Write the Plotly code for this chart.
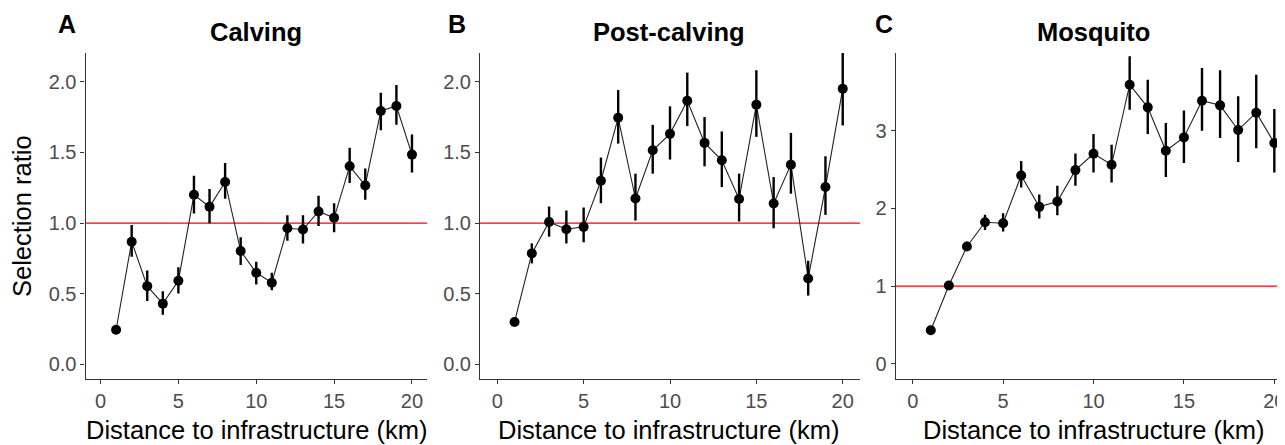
import plotly.graph_objects as go

# ---------------- data ----------------
distance_km = [1, 2, 3, 4, 5, 6, 7, 8, 9, 10, 11, 12, 13, 14, 15, 16, 17, 18, 19, 20]

calving_ratio = [0.244, 0.868, 0.553, 0.429, 0.591, 1.200, 1.115, 1.291, 0.802, 0.648,
                 0.577, 0.963, 0.954, 1.082, 1.037, 1.402, 1.267, 1.794, 1.829, 1.485]
calving_upper = [0.275, 0.987, 0.664, 0.517, 0.686, 1.335, 1.241, 1.426, 0.899, 0.726,
                 0.648, 1.056, 1.056, 1.193, 1.141, 1.533, 1.386, 1.924, 1.979, 1.628]
calving_lower = [0.215, 0.762, 0.448, 0.351, 0.500, 1.067, 0.999, 1.172, 0.702, 0.565,
                 0.524, 0.875, 0.856, 0.980, 0.935, 1.283, 1.165, 1.658, 1.696, 1.359]

post_ratio = [0.299, 0.785, 1.008, 0.956, 0.973, 1.300, 1.746, 1.174, 1.516, 1.632,
              1.867, 1.568, 1.445, 1.170, 1.839, 1.139, 1.414, 0.607, 1.255, 1.952]
post_upper = [0.320, 0.856, 1.117, 1.089, 1.110, 1.464, 1.943, 1.350, 1.696, 1.827,
              2.066, 1.751, 1.649, 1.350, 2.083, 1.326, 1.639, 0.733, 1.473, 2.220]
post_lower = [0.280, 0.714, 0.904, 0.856, 0.864, 1.141, 1.563, 1.018, 1.350, 1.450,
              1.687, 1.402, 1.255, 1.011, 1.611, 0.963, 1.208, 0.486, 1.058, 1.692]

mosq_ratio = [0.430, 1.006, 1.509, 1.822, 1.809, 2.424, 2.020, 2.089, 2.493, 2.703,
              2.562, 3.593, 3.301, 2.742, 2.914, 3.387, 3.327, 3.009, 3.232, 2.841]
mosq_upper = [0.470, 1.050, 1.570, 1.917, 1.938, 2.609, 2.179, 2.291, 2.708, 2.957,
              2.819, 3.958, 3.658, 3.099, 3.262, 3.808, 3.778, 3.443, 3.722, 3.279]
mosq_lower = [0.390, 0.960, 1.450, 1.723, 1.702, 2.269, 1.870, 1.913, 2.291, 2.463,
              2.334, 3.271, 2.957, 2.403, 2.583, 3.000, 2.905, 2.596, 2.776, 2.463]

panel_letters = ["A", "B", "C"]
panel_titles = ["Calving", "Post-calving", "Mosquito"]
x_title = "Distance to infrastructure (km)"
y_title = "Selection ratio"
reference_value = 1

x_ticks = [0, 5, 10, 15, 20]
y_ticks_ab = [0.0, 0.5, 1.0, 1.5, 2.0]
y_ticks_c = [0, 1, 2, 3]

# ---------------- layout geometry (window pixels) ----------------
OFF = 8                      # default page body margin
W, H = 1285 - OFF, 445 - OFF
plot_top, plot_bottom = 53, 379
x_pix = [(85.5, 427.0), (480.0, 860.0), (895.7, 1285.0)]
x_ranges = [[-0.965, 20.965], [-1.0, 21.0], [-0.94, 20.59]]
y_ranges = [[-0.105, 2.205], [-0.105, 2.205], [-0.197, 4.001]]
y_tick_sets = [y_ticks_ab, y_ticks_ab, y_ticks_c]
y_formats = [".1f", ".1f", "d"]
title_cx = [256, 669, 1093]
letter_cx = [66.7, 456.7, 884.3]
xtitle_cx = [256.5, 669, 1094]

series = [
    (calving_ratio, calving_upper, calving_lower),
    (post_ratio, post_upper, post_lower),
    (mosq_ratio, mosq_upper, mosq_lower),
]

FONT = "Liberation Sans, Arial, sans-serif"
TICK_COL = "#4D4D4D"
AXIS_COL = "#333333"

def fx(px):
    return (px - OFF) / W

def fy(py):
    return (H - (py - OFF)) / H

fig = go.Figure()
annotations = []

for i in range(3):
    xa = "x" if i == 0 else f"x{i+1}"
    ya = "y" if i == 0 else f"y{i+1}"
    ratio, upper, lower = series[i]
    plus = [u - r for u, r in zip(upper, ratio)]
    minus = [r - l for r, l in zip(ratio, lower)]

    # reference line at 1
    fig.add_trace(go.Scatter(
        x=[x_ranges[i][0], x_ranges[i][1]], y=[reference_value, reference_value],
        mode="lines", line=dict(color="#FF0000", width=1.2),
        xaxis=xa, yaxis=ya, showlegend=False, hoverinfo="skip"))

    # connecting line
    fig.add_trace(go.Scatter(
        x=distance_km, y=ratio, mode="lines",
        line=dict(color="#222222", width=1.1),
        xaxis=xa, yaxis=ya, showlegend=False))

    # points with error bars
    fig.add_trace(go.Scatter(
        x=distance_km, y=ratio, mode="markers",
        marker=dict(color="black", size=10),
        error_y=dict(type="data", symmetric=False, array=plus, arrayminus=minus,
                     color="black", thickness=2.4, width=0),
        xaxis=xa, yaxis=ya, showlegend=False))

    axis_common = dict(
        showgrid=False, zeroline=False, showline=True, linecolor=AXIS_COL, linewidth=1.1,
        ticks="outside", ticklen=4, tickwidth=1.1, tickcolor=AXIS_COL,
        tickfont=dict(family=FONT, size=20, color=TICK_COL),
        ticklabeloverflow="allow",
    )
    fig.update_layout(**{
        ("xaxis" if i == 0 else f"xaxis{i+1}"): dict(
            domain=[fx(x_pix[i][0]), min(1.0, fx(x_pix[i][1]))], range=x_ranges[i],
            tickmode="array", tickvals=x_ticks, anchor=ya, **axis_common),
        ("yaxis" if i == 0 else f"yaxis{i+1}"): dict(
            domain=[fy(plot_bottom), fy(plot_top)], range=y_ranges[i],
            tickmode="array", tickvals=y_tick_sets[i], tickformat=y_formats[i],
            anchor=xa, **axis_common),
    })

    annotations.append(dict(
        text=f"<b>{panel_titles[i]}</b>", x=fx(title_cx[i]), y=fy(32), xref="paper", yref="paper",
        xanchor="center", yanchor="middle", showarrow=False,
        font=dict(family=FONT, size=25.5, color="black")))
    annotations.append(dict(
        text=f"<b>{panel_letters[i]}</b>", x=fx(letter_cx[i]), y=fy(24),
        xref="paper", yref="paper", xanchor="center", yanchor="middle", showarrow=False,
        font=dict(family=FONT, size=25, color="black")))
    annotations.append(dict(
        text=x_title, x=fx(xtitle_cx[i]), y=fy(430), xref="paper", yref="paper",
        xanchor="center", yanchor="middle", showarrow=False,
        font=dict(family=FONT, size=25.5, color="black")))

annotations.append(dict(
    text=y_title, x=fx(22), y=fy(216), xref="paper", yref="paper",
    xanchor="center", yanchor="middle", textangle=-90, showarrow=False,
    font=dict(family=FONT, size=25.5, color="black")))

fig.update_layout(
    width=W, height=H, margin=dict(l=0, r=0, t=0, b=0),
    paper_bgcolor="white", plot_bgcolor="white",
    annotations=annotations, showlegend=False,
)

fig.write_html("out.html")
